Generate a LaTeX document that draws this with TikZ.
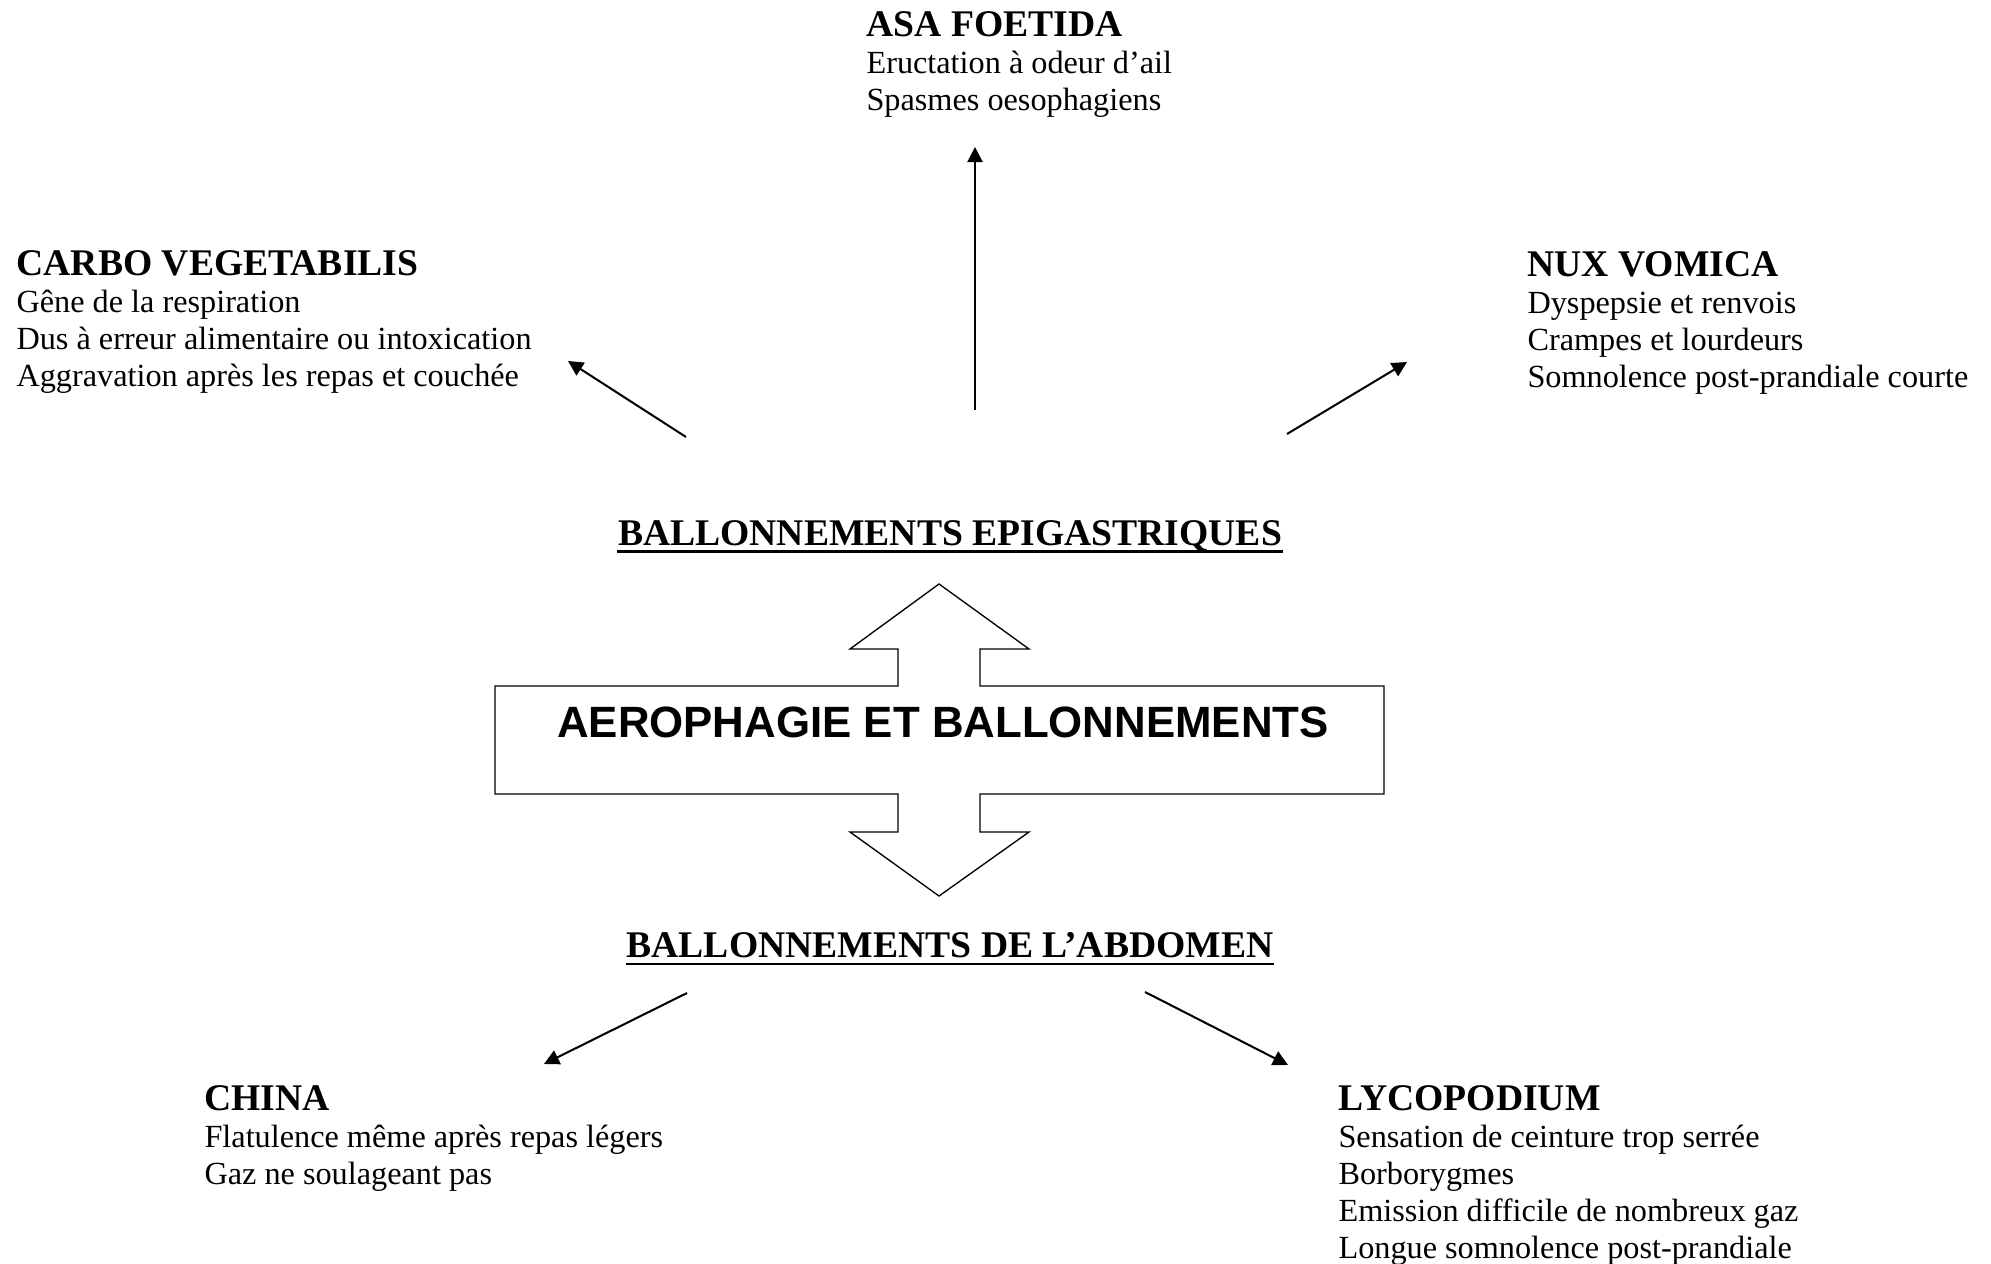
\documentclass[tikz,border=0pt]{standalone}
\usepackage{fontspec}
\setmainfont{Liberation Serif}
\newfontfamily\comicfont{Liberation Sans}
\usetikzlibrary{arrows.meta}
\newcommand\remhd[1]{{\fontsize{14}{13.8}\selectfont\bfseries #1}}
\begin{document}
\begin{tikzpicture}[x=0.372pt,y=-0.372pt,
  block/.style={anchor=base west,inner sep=0pt,align=left,font=\fontsize{12}{13.8}\selectfont},
  conn/.style={line width=0.75pt,-{Triangle[length=5.6pt,width=5.6pt]}},
  title/.style={anchor=base,inner sep=0pt,font=\fontsize{14}{16}\selectfont\bfseries},
  ul/.style={line width=1.1pt},
  bigarrow/.style={line width=0.5pt}]
\useasboundingbox (0,0) rectangle (1991,1264);

% remedy blocks (anchor = baseline of the last line)
\node[block] (asa) at (866,110.9) {\remhd{ASA FOETIDA}\\Eructation à odeur d’ail\\Spasmes oesophagiens};
\node[block] (carbo) at (16,386.3) {\remhd{CARBO VEGETABILIS}\\Gêne de la respiration\\Dus à erreur alimentaire ou intoxication\\Aggravation après les repas et couchée};
\node[block] (nux) at (1527,387.3) {\remhd{NUX VOMICA}\\Dyspepsie et renvois\\Crampes et lourdeurs\\Somnolence post-prandiale courte};
\node[block] (china) at (204,1184.2) {\remhd{CHINA}\\Flatulence même après repas légers\\Gaz ne soulageant pas};
\node[block] (lyco) at (1338,1258.4) {\remhd{LYCOPODIUM}\\Sensation de ceinture trop serrée\\Borborygmes\\Emission difficile de nombreux gaz\\Longue somnolence post-prandiale};

% titles
\node[title] (epi) at (950,545.7) {BALLONNEMENTS EPIGASTRIQUES};
\draw[ul] ([yshift=-2.2pt]epi.base west) -- ([yshift=-2.2pt]epi.base east);
\node[title] (abd) at (950,957) {BALLONNEMENTS DE L’ABDOMEN};
\draw[ul] ([yshift=-2.6pt]abd.base west) -- ([yshift=-2.6pt]abd.base east);

% central double arrow
\draw[bigarrow] (939,584) -- (1029,649) -- (980,649) -- (980,686) -- (1384,686)
  -- (1384,794) -- (980,794) -- (980,832) -- (1029,832) -- (939,896)
  -- (850,832) -- (898,832) -- (898,794) -- (495,794) -- (495,686)
  -- (898,686) -- (898,649) -- (850,649) -- cycle;
\node[anchor=base,inner sep=0pt,font=\comicfont\bfseries\fontsize{16.3}{18}\selectfont] (main) at (943,737) {AEROPHAGIE ET BALLONNEMENTS};

% connectors
\coordinate (asaS) at (975,410);   \coordinate (asaT) at (975,147);
\coordinate (carS) at (686,437);   \coordinate (carT) at (568,361);
\coordinate (nuxS) at (1287,434);  \coordinate (nuxT) at (1407,362);
\coordinate (chiS) at (687,993);   \coordinate (chiT) at (544,1064);
\coordinate (lycS) at (1145,992);  \coordinate (lycT) at (1288,1065);
\draw[conn] (asaS) -- (asaT);
\draw[conn] (carS) -- (carT);
\draw[conn] (nuxS) -- (nuxT);
\draw[conn] (chiS) -- (chiT);
\draw[conn] (lycS) -- (lycT);
\end{tikzpicture}
\end{document}
